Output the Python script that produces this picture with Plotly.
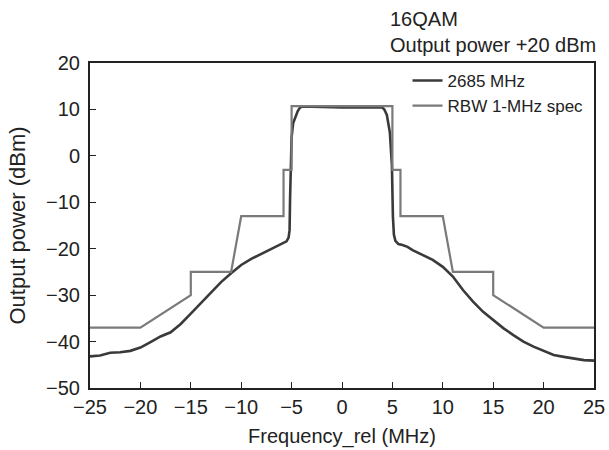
import plotly.graph_objects as go

# Measured spectrum (2685 MHz)
meas_freq = [-25, -24, -23, -22, -21, -20, -19, -18, -17, -16, -15, -14, -13, -12, -11,
             -10, -9, -8, -7, -6, -5.5, -5.3, -5.2, -5.15, -5.1, -5.0, -4.85, -4.6, -4.4,
             -4.2, -4.0, -3, -2, -1, 0, 1, 2, 3, 4.0, 4.2, 4.45, 4.75, 4.95, 5.05, 5.15,
             5.3, 5.6, 6, 6.5, 7, 8, 9, 10, 11, 12, 13, 14, 15, 16, 17, 18, 19, 20, 21,
             22, 23, 24, 25]
meas_power = [-43.2, -43.0, -42.4, -42.3, -42.0, -41.3, -40.1, -38.9, -38.0, -36.2, -34.0,
              -31.8, -29.6, -27.2, -25.3, -23.5, -22.2, -21.1, -20.0, -19.0, -18.4, -17.6,
              -16.0, -9.0, -1.0, 4.0, 7.0, 8.5, 9.6, 10.3, 10.6, 10.6, 10.5, 10.4, 10.4,
              10.4, 10.4, 10.4, 10.4, 10.0, 8.8, 5.0, -2.0, -13.0, -17.0, -18.3, -19.0,
              -19.2, -19.6, -20.3, -21.4, -22.4, -23.9, -26.0, -28.9, -31.4, -33.6, -35.4,
              -37.1, -38.6, -40.0, -41.1, -42.0, -42.9, -43.3, -43.6, -44.0, -44.1]

# RBW 1-MHz spectrum emission mask
spec_freq = [-25, -20, -15, -15, -11, -10, -5.8, -5.8, -5, -5, 5, 5, 5.8, 5.8, 10, 11,
             15, 15, 20, 25]
spec_power = [-37, -37, -30, -25, -25, -13, -13, -3, -3, 10.7, 10.7, -3, -3, -13, -13,
              -25, -25, -30, -37, -37]

x_ticks = [-25, -20, -15, -10, -5, 0, 5, 10, 15, 20, 25]
y_ticks = [-50, -40, -30, -20, -10, 0, 10, 20]

FONT = "Liberation Sans, Arial, Helvetica, sans-serif"
TXT = "#222222"

fig = go.Figure()
fig.add_trace(go.Scatter(x=meas_freq, y=meas_power, mode="lines", name="2685 MHz",
                         line=dict(color="#3a3a3a", width=2.6)))
fig.add_trace(go.Scatter(x=spec_freq, y=spec_power, mode="lines", name="RBW 1-MHz spec",
                         line=dict(color="#7a7a7a", width=2.2)))

axis_common = dict(showgrid=False, zeroline=False, showline=True, linecolor=TXT,
                   linewidth=2, mirror=True, ticks="inside", ticklen=6, tickwidth=1,
                   tickcolor=TXT, automargin=False,
                   tickfont=dict(size=20, color=TXT, family=FONT))

fig.update_xaxes(range=[-25, 25], tickvals=x_ticks,
                 title=dict(text="Frequency_rel (MHz)", font=dict(size=20, color=TXT, family=FONT),
                            standoff=12),
                 **axis_common)
fig.update_yaxes(range=[-50, 20], tickvals=y_ticks, ticklabelstandoff=4,
                 title=dict(text="Output power (dBm)", font=dict(size=22, color=TXT, family=FONT),
                            standoff=14),
                 **axis_common)

fig.add_annotation(text="16QAM<br>Output power +20 dBm", xref="paper", yref="paper",
                   x=0.591, y=1.0, xanchor="left", yanchor="bottom", align="left",
                   showarrow=False, yshift=5,
                   font=dict(size=20, color=TXT, family=FONT))

fig.update_layout(
    width=609, height=450,
    margin=dict(l=90, r=15, t=63, b=62),
    paper_bgcolor="white", plot_bgcolor="white",
    font=dict(family=FONT, color=TXT),
    legend=dict(x=0.63, y=1.0, xanchor="left", yanchor="top", bgcolor="rgba(0,0,0,0)",
                font=dict(size=17, color=TXT, family=FONT), tracegroupgap=3,
                itemwidth=30),
    showlegend=True,
)

fig.write_html("out.html", config={"displayModeBar": False},
               post_script="document.body.style.margin='0';document.body.style.padding='0';")
